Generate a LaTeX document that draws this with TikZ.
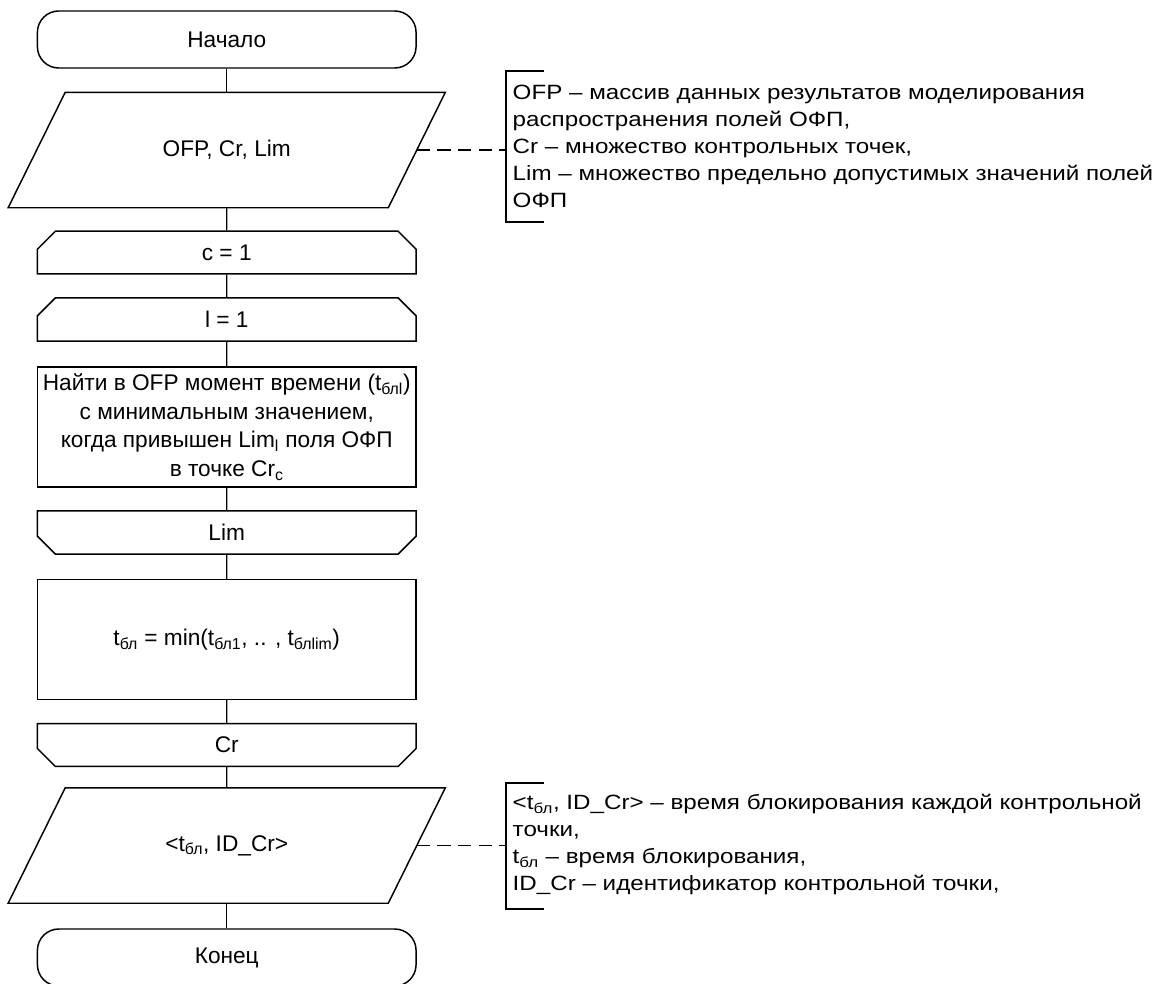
\documentclass[tikz,border=0pt]{standalone}
\usepackage{fontspec}
\setmainfont{Liberation Sans}
\newfontfamily\notefont{Liberation Sans}[FakeStretch=1.17]
\usetikzlibrary{shapes.misc}

\begin{document}
\begin{tikzpicture}[x=0.75pt,y=-0.75pt,line width=1.1pt,
	every node/.style={font=\fontsize{17}{21.5}\selectfont},
	terminal/.style={draw,rectangle,rounded corners=16pt,minimum width=284pt,minimum height=42.75pt},
	io/.style={rectangle,minimum width=284pt,minimum height=85.5pt,
		append after command={\pgfextra{\draw ([xshift=21.4pt]\tikzlastnode.north west)
			-- ([xshift=21.4pt]\tikzlastnode.north east) -- ([xshift=-21.4pt]\tikzlastnode.south east)
			-- ([xshift=-21.4pt]\tikzlastnode.south west) -- cycle;}}},
	loopbegin/.style={draw,chamfered rectangle,chamfered rectangle corners={north west,north east},
		chamfered rectangle xsep=6.75pt,chamfered rectangle ysep=6.75pt,minimum width=284pt,minimum height=30.75pt},
	loopend/.style={draw,chamfered rectangle,chamfered rectangle corners={south west,south east},
		chamfered rectangle xsep=6.75pt,chamfered rectangle ysep=6.75pt,minimum width=284pt,minimum height=28.5pt},
	proc/.style={draw,rectangle,align=center,inner sep=2pt,minimum width=284pt,minimum height=90pt},
	note/.style={font=\notefont\fontsize{15.5}{20.25}\selectfont,align=left,anchor=west,inner sep=0pt},
	comline/.style={dash pattern=on 10pt off 5.5pt}]
	\useasboundingbox (0,0) rectangle (1161,983);
	% flowchart
	\node[terminal] (start) at (226.75,39.5) {Начало};
	\node[io] (in1) at (226.75,150) {OFP, Cr, Lim};
	\node[loopbegin] (c) at (226.75,252.5) {c = 1};
	\node[loopbegin] (l) at (226.75,319.5) {l = 1};
	\node[proc] (find) at (226.75,427) {Найти в OFP момент времени (t\textsubscript{блl})\\
		с минимальным значением,\\
		когда привышен Lim\textsubscript{l} поля ОФП\\
		в точке Cr\textsubscript{c}};
	\node[loopend] (lim) at (226.75,532.5) {Lim};
	\node[proc] (min) at (226.75,639.5) {t\textsubscript{бл} = min(t\textsubscript{бл1}, .. , t\textsubscript{блlim})};
	\node[loopend] (cr) at (226.75,745) {Cr};
	\node[io] (out) at (226.75,845.5) {<t\textsubscript{бл}, ID\_Cr>};
	\node[terminal] (end) at (226.75,957.5) {Конец};
	\foreach \a/\b in {start/in1,in1/c,c/l,l/find,find/lim,lim/min,min/cr,cr/out,out/end}
		\draw (\a) -- (\b);
	% comments
	\node[note] (note1) at (512,146) {OFP – массив данных результатов моделирования\\
		распространения полей ОФП,\\
		Cr – множество контрольных точек,\\
		Lim – множество предельно допустимых значений полей\\
		ОФП};
	\coordinate (n1top) at (506,71);
	\coordinate (n1bot) at (506,222);
	\draw (n1top) ++(38,0) -- (n1top) -- (n1bot) -- ++(38,0);
	\draw[comline] (in1.east) -- (in1.east -| n1top);
	\node[note] (note2) at (512,844) {<t\textsubscript{бл}, ID\_Cr> – время блокирования каждой контрольной\\
		точки,\\
		t\textsubscript{бл} – время блокирования,\\
		ID\_Cr – идентификатор контрольной точки,};
	\coordinate (n2top) at (506,783);
	\coordinate (n2bot) at (506,909);
	\draw (n2top) ++(38,0) -- (n2top) -- (n2bot) -- ++(38,0);
	\draw[comline] (out.east) -- (out.east -| n2top);
\end{tikzpicture}
\end{document}
